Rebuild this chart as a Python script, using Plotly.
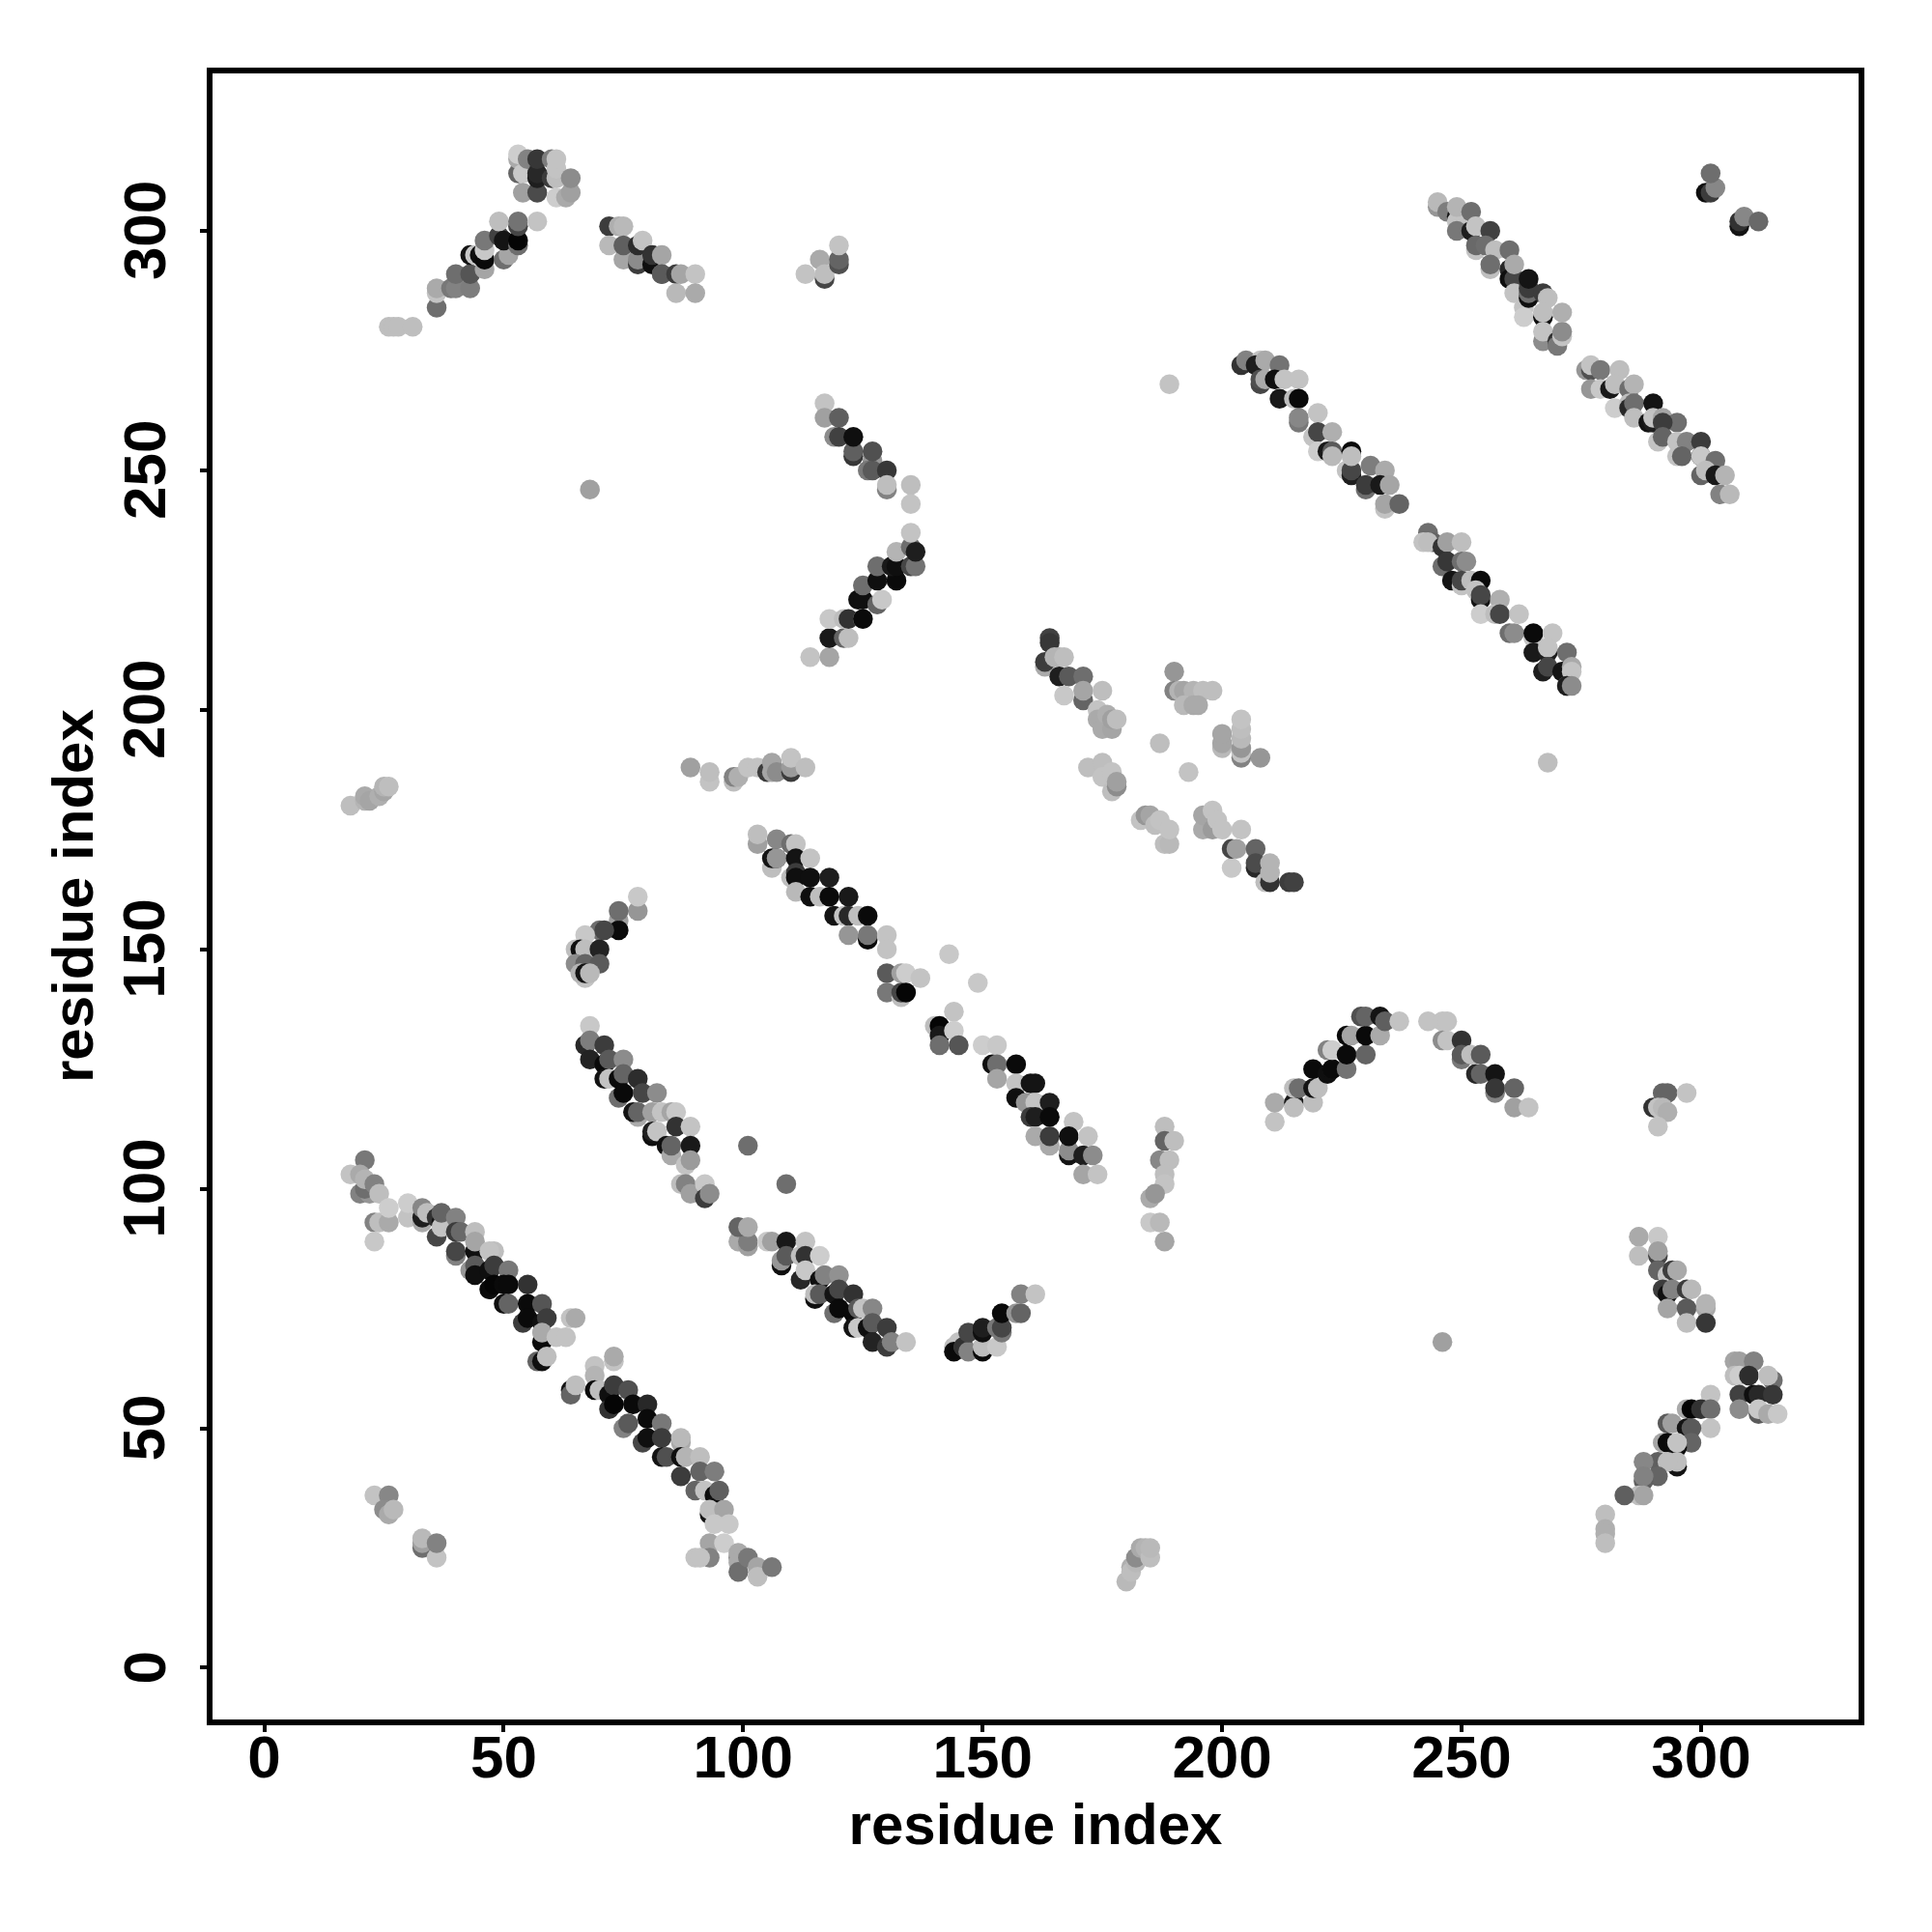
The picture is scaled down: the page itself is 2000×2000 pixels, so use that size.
import plotly.graph_objects as go

# (residue i, residue j, grey level)
top_arc = [(26,280,190),(27,280,190),(28,280,190),(31,280,190),(36,284,110),(36,287,195),(36,288,170),
 (39,288,120),(40,288,130),(43,288,125),(40,291,110),(43,291,85),(43,295,20),(44,295,200),(46,292,165),(45,295,15),(46,294,10),
 (46,296,200),(46,298,120),(50,294,110),(51,295,165),(49,299,65),(49,302,190),(50,298,20),(53,297,110),(53,298,5),(53,301,70),(53,302,115),(57,302,195)]
top_block = [(53,312,100),(53,315,170),(53,316,205),(54,312,200),(54,308,160),(55,315,130),(57,308,75),(57,311,30),(57,312,40),(57,315,55),
 (60,315,125),(60,311,60),(61,307,205),(61,311,190),(61,313,195),(61,315,195),(63,307,170),(64,308,160),(64,311,140)]
top_fall = [(72,301,60),(74,301,175),(75,301,185),(72,297,185),(75,294,165),(75,297,95),(78,293,60),(78,294,140),(78,297,45),(79,298,195),
 (81,293,15),(81,295,50),(83,291,120),(83,295,165),(83,291,90),(86,291,60),(87,291,165),(90,291,195),(86,287,185),(90,287,170)]
top_small = [(113,291,195),(116,294,170),(117,290,70),(117,291,190),(120,293,80),(120,294,100),(120,297,195)]
lone = [(68,246,160),(189,268,195),(268,189,190),(246,68,160),(101,109,110),(109,101,110)]
upper_v = [(117,264,195),(117,261,160),(120,261,95),(119,257,140),(120,257,65),(123,253,55),(123,254,95),(123,257,15),(127,252,150),(126,250,120),
 (127,250,90),(127,254,80),(130,250,55),(130,246,130),(130,247,190),(135,247,190),(135,243,195)]
lower_v = [(114,211,195),(118,211,165),(118,215,25),(121,215,100),(122,215,190),(118,219,200),(121,219,190),(122,219,50),(125,219,190),(125,219,10),
 (124,223,15),(125,223,15),(128,222,100),(129,223,200),(125,226,110),(128,227,15),(132,227,150),(132,227,10),(128,230,110),(131,230,25),(132,230,15),
 (135,230,70),(136,230,115),(132,233,180),(135,234,110),(136,233,30),(135,237,195)]
strand_a = [(245,305,150),(245,306,185),(247,304,125),(249,303,20),(249,302,195),(249,305,180),(252,304,110),(249,300,120),(252,300,30),(253,301,195),(256,300,65),
 (253,296,195),(253,297,105),(255,297,110),(257,296,190),(260,296,110),(256,292,190),(256,293,110),(260,292,40),(260,290,15),(261,290,70),(261,293,170),(261,287,195),
 (263,284,195),(263,282,205),(264,286,15),(264,287,110),(264,288,60),(264,290,20),(267,287,60),(267,282,15),(268,286,190),(267,283,190),(267,277,140),(267,279,195),
 (270,277,50),(270,276,120),(271,278,195),(271,279,140),(271,283,175)]
strand_b = [(276,271,150),(277,271,80),(277,272,195),(279,271,120),(283,271,190),(277,267,150),(279,267,200),(281,267,25),(282,268,190),(285,267,110),(286,268,180),
 (282,263,205),(285,264,190),(285,263,40),(286,264,110),(286,261,190),(289,260,20),(290,260,30),(290,264,20),(290,261,195),(292,261,165),(295,260,110),(292,260,60),
 (291,256,195),(292,257,100),(295,256,195),(297,256,130),(300,256,60),(295,253,195),(296,253,100),(300,253,30),(300,253,200),(303,252,110),(300,249,100),(301,250,190),
 (303,249,25),(305,249,180),(304,245,130),(306,245,185)]
strand_c = [(204,272,50),(205,273,130),(208,273,195),(207,272,30),(209,273,170),(212,272,115),(208,268,70),(208,269,80),(209,269,170),(211,269,15),(213,269,195),(216,269,195),
 (212,265,25),(215,265,190),(216,265,10),(216,260,120),(216,261,135),(220,262,195),(219,257,195),(220,258,70),(223,258,175),(220,254,205),(222,254,25),(223,254,90),(223,253,185),
 (227,254,10),(226,250,195),(227,249,30),(227,250,70),(227,253,190),(231,251,125),(234,250,170),(230,246,110),(230,247,60),(233,247,25),(235,247,165),(234,242,195),(234,243,165),(237,243,100)]
strand_d = [(243,237,110),(242,235,195),(244,235,100),(243,235,190),(246,234,50),(247,235,160),(250,235,190),(246,230,110),(247,231,55),(250,231,110),(251,231,140),
 (248,227,20),(250,226,195),(250,227,70),(252,227,190),(254,227,10),(253,225,195),(254,223,20),(254,224,70),(258,223,175),(254,220,205),(257,220,190),(258,220,70),(262,220,195),
 (260,216,110),(261,216,140),(265,215,195),(265,216,10),(269,216,195),(265,212,25),(268,212,30),(268,213,195),(272,212,110),(267,208,30),(268,209,70),(271,208,20),(273,209,170),(273,208,195),
 (272,205,120),(272,205,30),(273,205,140)]
corner = [(301,308,15),(302,308,60),(303,309,135),(302,312,110),(308,301,20),(308,302,50),(309,303,135),(312,302,105)]
mid_upper = [(164,215,65),(164,214,55),(163,209,170),(163,210,60),(165,211,180),(166,211,180),(167,211,190),(166,207,30),(168,207,90),(171,207,110),(167,203,200),(171,202,100),(171,204,165),(175,204,190),
 (174,200,195),(174,198,170),(175,196,170),(176,199,175),(177,196,165),(177,198,160),(178,198,190)]
mid_cross = [(187,193,190),(193,187,195),(190,208,150),(190,204,130),(191,204,180),(192,204,165),(194,204,180),(196,204,190),(198,204,190),(192,201,185),(194,201,170),(195,201,170),
 (200,192,185),(200,193,165),(200,195,165),(204,190,130),(204,191,195),(204,192,150),(204,194,185),(204,196,190),(204,198,195),(208,190,150)]
mid_lower = [(172,188,190),(175,189,190),(175,186,195),(177,187,195),(177,183,190),(178,184,140),(178,185,160),(183,177,195),(184,178,150),(185,178,165),(186,176,190),(187,177,195),(188,172,190),(189,172,185),(189,175,195),
 (196,175,170),(196,178,165),(198,175,155),(198,179,195),(199,177,195),(200,175,195),(204,175,195),(202,167,200),(202,171,70),(203,171,160),(207,171,100),(207,167,40),(207,168,75),(209,164,190),
 (210,164,50),(210,166,180),(210,168,180),(214,164,60),(215,164,65)]
left_top = [(18,180,190),(21,181,180),(21,182,170),(22,181,165),(24,182,175),(25,183,165),(25,184,180),(26,184,190)]
left_row = [(89,188,160),(93,185,195),(93,187,190),(98,185,190),(98,186,130),(99,186,175),(101,188,195),(103,188,195),(105,187,60),(106,187,165),(106,189,165),(107,187,140),(110,187,60),(110,188,155),(110,190,195),(113,188,190)]
arc_a = [(78,158,150),(78,161,200),(74,156,160),(74,154,10),(74,158,110),(70,154,110),(71,154,70),(67,153,200),(65,150,190),(66,150,15),(67,150,190),(70,150,35),(65,147,140),(67,147,100),(70,147,90),(67,144,195),(66,145,180),(67,145,20),(68,145,185)]
strand_e = [(103,172,160),(103,174,190),(107,173,135),(110,172,110),(111,172,195),(106,167,190),(106,169,20),(107,169,70),(107,169,150),(111,169,20),(114,169,195),(110,165,190),(111,166,60),(111,165,15),(114,165,15),(118,165,30),
 (111,162,185),(114,161,15),(116,161,190),(118,161,10),(122,161,25),(119,157,20),(121,157,195),(122,157,40),(124,157,190),(126,157,10),(126,152,10),(122,153,150),(126,153,120),(130,153,195),(130,150,195)]
strand_f = [(130,145,90),(130,141,120),(133,145,160),(134,145,205),(137,144,195),(133,140,190),(133,141,70),(134,141,5),(143,149,200),(149,143,200),(144,137,195),
 (140,134,190),(141,134,5),(141,132,25),(144,133,205),(141,130,110),(145,130,85),(150,130,205),(153,130,200)]
strand_g = [(152,126,15),(153,126,110),(157,126,10),(153,123,165),(157,122,195),(157,119,15),(160,122,20),(161,122,20),(159,118,150),(161,118,195),(160,115,60),(161,115,30),(164,118,30),(164,115,10),
 (161,111,170),(164,109,170),(164,111,60),(169,114,195),(168,107,20),(168,108,140),(168,111,15),(172,111,195),(171,107,30),(173,107,140),(171,103,165),(174,103,195)]
strand_h = [(68,134,200),(67,130,40),(68,131,125),(71,130,60),(68,127,35),(71,126,10),(72,127,90),(75,127,140),(71,123,20),(72,123,195),(74,123,10),(75,124,100),(78,123,45),(74,119,110),(75,120,10),(79,120,70),(82,120,140),
 (78,115,170),(77,116,20),(78,116,100),(81,116,160),(83,116,195),(85,116,165),(86,116,200),(81,111,15),(81,112,30),(82,112,195),(86,113,50),(89,113,195),(84,109,15),(85,107,170),(85,109,100),(89,109,25),
 (88,105,195),(89,106,155),(87,101,190),(88,101,130),(89,99,160),(92,101,200),(92,98,60),(93,99,140)]
strand_i = [(99,89,170),(101,88,160),(101,89,125),(99,92,100),(101,92,170),(105,89,200),(106,89,160),(109,89,25),(113,89,195),(108,84,15),(108,85,150),(109,86,90),(112,86,190),(113,86,50),(116,86,205),
 (112,81,40),(113,83,200),(116,81,15),(117,82,130),(120,82,145),(115,77,15),(115,78,190),(116,78,90),(119,78,20),(120,79,70),(123,78,50),(119,74,110),(120,75,10),(123,74,10),(124,75,90),(125,75,195),(127,75,135),
 (123,71,20),(124,71,200),(126,71,15),(127,72,90),(130,71,60),(127,68,35),(130,67,60),(131,68,130),(134,68,195)]
mid_hook = [(144,67,190),(145,68,195),(144,66,10),(146,67,90),(146,67,50),(147,66,130),(147,70,70),(150,66,10),(150,67,190),(150,70,15),(150,71,30),(153,67,200),(153,71,120),(154,70,120),(154,71,70),(154,74,10),(157,74,150),(158,74,100),(158,78,130),(161,78,195)]
loop_arc = [(211,114,195),(211,118,170),(215,118,25),(215,117,190),(219,118,190),(215,121,190),(216,121,110),(219,121,20),(220,121,190),(219,125,10),(222,124,15),(223,125,30),(223,125,10),(226,125,115),(222,129,130),(223,129,205),
 (226,128,10),(230,128,100),(226,132,10),(227,132,165),(230,132,10),(233,132,170),(229,136,80),(230,136,100),(233,136,20),(234,135,95),(237,135,195),
 (243,135,195),(246,135,195),(247,135,195),(246,131,140),(247,131,195),(250,131,50),(250,127,120),(250,128,90),(252,128,190),(254,128,90),(253,124,40),(254,124,100),(257,124,20),(257,120,130),(257,121,55),(261,121,100),(261,117,160),(264,117,195)]
small_right = [(292,120,100),(293,120,100),(297,120,195),(290,117,50),(291,117,195),(292,117,185),(293,116,175),(291,113,195)]
vert_cluster = [(188,113,190),(188,110,100),(190,110,190),(187,106,135),(189,106,190),(188,103,190),(188,101,195),(185,98,170),(186,99,150),(185,93,200),(187,93,185),(188,89,165)]
right_strand = [(287,90,170),(291,90,200),(287,86,190),(291,86,70),(291,87,160),(291,83,100),(293,82,195),(294,83,60),(295,83,170),(292,79,60),(293,78,15),(294,79,130),(297,79,60),(298,79,185),(293,75,165),(297,75,90),(301,75,170),(301,76,180),(297,72,190),(301,72,55)]
right_arc = [(302,57,195),(297,54,170),(298,54,5),(300,54,50),(302,54,110),(302,50,195),(293,51,90),(294,51,160),(297,50,20),(298,50,90),(298,47,100),(292,47,165),(293,47,10),(295,46,15),(295,47,195),(295,42,20),(295,43,190),(291,43,95),(293,43,190),
 (288,43,135),(291,40,100),(288,39,95),(288,40,130),(287,36,190),(288,36,165),(284,36,95),(280,32,190),(280,29,175),(280,28,175),(280,26,190)]
right_block = [(307,64,165),(308,64,160),(311,64,130),(307,61,190),(308,61,205),(310,61,45),(315,60,110),(314,61,190),(308,57,65),(311,57,15),(312,57,40),(315,57,55),(308,54,140),(312,53,90),(312,54,200),(314,53,170),(316,53,200)]
long_low = [(21,106,120),(18,103,195),(20,103,170),(20,99,130),(22,99,150),(21,100,110),(21,102,180),(23,101,130),(24,99,190),(23,93,130),(24,93,190),(23,89,200),(26,93,170),(26,96,205),(30,94,195),(30,97,205),
 (33,93,170),(33,94,30),(33,96,135),(34,95,190),(36,90,70),(36,94,50),(37,93,20),(37,92,195),(37,95,100),(40,94,130),(40,91,60),(41,91,105),(44,91,190),(40,86,130),(40,87,70),(44,87,15),(44,89,165),(43,83,150),(44,84,90),(44,82,15),
 (48,87,190),(47,87,195),(47,83,15),(48,84,60),(51,83,120),(47,79,180),(47,79,10),(48,80,5),(50,80,10),(51,80,10),(55,80,50),(50,76,15),(51,76,100),(55,76,10),(58,76,85),(54,72,60),(55,73,10),(58,72,15),(59,73,60),
 (58,68,10),(58,70,170),(61,69,195),(63,69,195),(64,73,195),(65,73,170),(57,64,100),(58,64,15),(59,65,190)]
long_low2 = [(64,58,20),(64,57,100),(65,59,190),(69,63,195),(69,61,180),(69,58,10),(70,58,190),(73,64,195),(73,65,170),(72,57,15),(73,59,60),(76,58,80),(72,54,50),(73,55,5),(77,55,10),(80,55,40),(75,50,130),(76,51,90),(80,52,10),(83,51,120),
 (79,47,70),(80,48,15),(83,48,60),(87,47,170),(87,48,185),(83,44,20),(84,44,80),(87,44,15),(88,44,180),(91,44,190),(87,40,60),(91,41,100),(94,41,125),(90,37,100),(92,37,195),(94,36,15),(95,37,95),
 (93,32,20),(93,33,190),(96,33,165),(94,30,200),(97,30,200),(93,26,165),(96,26,205),(93,23,130),(90,23,195),(91,23,195),(99,23,130),(99,24,170),(99,22,170),(99,20,110),(101,23,120),(103,21,165),(103,19,190),(106,21,120)]
low_left = [(23,36,195),(26,36,135),(25,33,140),(26,32,170),(27,33,185),(33,25,110),(33,26,160),(33,27,185),(36,23,195),(36,26,130)]
low_mid = [(180,18,185),(181,21,175),(181,20,190),(182,22,185),(182,23,140),(183,25,170),(184,25,180),(185,23,190),(185,25,185)]

clusters = [top_arc, top_block, top_fall, top_small, lone, upper_v, lower_v, strand_a, strand_b, strand_c, strand_d, corner,
            mid_upper, mid_cross, mid_lower, left_top, left_row, arc_a, strand_e, strand_f, strand_g, strand_h, strand_i,
            mid_hook, loop_arc, small_right, vert_cluster, right_strand, right_arc, right_block, long_low, long_low2, low_left, low_mid]
points = [p for c in clusters for p in c]
residue_x = [p[0] for p in points]
residue_y = [p[1] for p in points]
greys = [f"rgb({p[2]},{p[2]},{p[2]})" for p in points]

tick_vals = [0, 50, 100, 150, 200, 250, 300]
tick_labels = ["0", "50", "100", "150", "200", "250", "300"]
axis_title = "residue index"
FONT = "Liberation Sans"
bold = dict(family=FONT, color="black", weight="bold")

fig = go.Figure(go.Scatter(x=residue_x, y=residue_y, mode="markers",
                           marker=dict(size=20.5, color=greys, line=dict(width=0))))
axis = dict(tickmode="array", tickvals=tick_vals, ticktext=tick_labels, showgrid=False, zeroline=False, showline=True, mirror=True,
            linecolor="black", linewidth=6, ticks="outside", ticklen=7, tickwidth=4, tickcolor="black",
            tickfont=dict(bold, size=62), title_font=dict(bold, size=60), automargin=False)
annotations = [dict(x=0, y=v, xref="paper", yref="y", text=t, textangle=-90, showarrow=False, xanchor="center", yanchor="middle",
                    xshift=-71, font=dict(bold, size=62)) for v, t in zip(tick_vals, tick_labels)]
annotations.append(dict(x=0, y=0.5, xref="paper", yref="paper", text=axis_title, textangle=-90, showarrow=False, xanchor="center",
                        yanchor="middle", xshift=-145, font=dict(bold, size=60)))
fig.update_layout(width=1980, height=1980, margin=dict(l=212, r=64, t=68, b=208), paper_bgcolor="white", plot_bgcolor="white",
                  showlegend=False, annotations=annotations,
                  xaxis=dict(axis, range=[-10.8, 332.9], ticklabelstandoff=-27, title=dict(text=axis_title, standoff=17)),
                  yaxis=dict(axis, range=[-10.8, 332.9], showticklabels=False))
fig.write_html("out.html", config=dict(displayModeBar=False))
